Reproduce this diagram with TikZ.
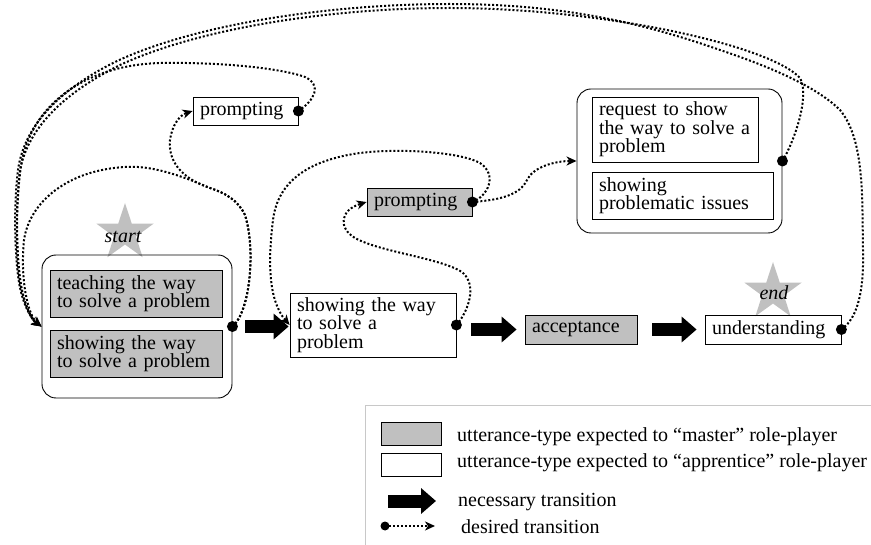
\documentclass[tikz,border=0pt]{standalone}
\usepackage{fontspec}
\setmainfont{Liberation Serif}
\usetikzlibrary{arrows.meta,shapes.geometric}
\definecolor{boxgray}{RGB}{192,192,192}
\definecolor{stargray}{RGB}{192,192,192}
\definecolor{legline}{RGB}{200,200,200}
\tikzset{
  txt/.style={font=\fontsize{20}{18.5}\selectfont},
  itxt/.style={font=\fontsize{20}{18.5}\selectfont\itshape, inner sep=0pt},
  ubox/.style={draw, line width=0.8pt, rectangle, inner xsep=7pt, inner ysep=0pt, align=left, txt},
  mbox/.style={ubox, fill=boxgray},
  grp/.style={draw, line width=0.9pt, rounded corners=14pt, inner sep=0pt},
  bigarrow/.style={line width=13pt, -{Triangle[length=15pt,width=25pt]}},
  desired/.style={line width=2pt, dash pattern=on 2pt off 2pt, -{Stealth[length=10pt,width=9pt,inset=3pt]}},
  starshape/.style={star, star points=5, star point ratio=2.6, fill=stargray, minimum size=60pt, inner sep=0pt, draw=none},
  legtext/.style={txt, anchor=west, inner sep=0pt},
}
\begin{document}
\begin{tikzpicture}[x=1pt,y=-1pt]
\useasboundingbox (0,0) rectangle (871,545);

% stars
\node[starshape] (startstar) at (125,233) {};
\node[itxt] (startlbl) at (123,237) {start};
\node[starshape] (endstar) at (773,292) {};
\node[itxt] (endlbl) at (774,293) {end};

% start group
\node[grp, minimum width=190pt, minimum height=143pt] (startgrp) at (137,326.5) {};
\node[mbox, text width=158pt, minimum height=47pt] (teach) at (136,293.5) {teaching the way\\to solve a problem};
\node[mbox, text width=158pt, minimum height=47pt] (showA) at (136,353.5) {showing the way\\to solve a problem};

% main chain
\node[ubox, text width=152pt, minimum height=64pt] (showing) at (373,325) {showing the way\\to solve a\\problem};
\node[mbox, text width=98pt, minimum height=29pt] (accept) at (581,329.5) {acceptance};
\node[ubox, text width=122pt, minimum height=29pt] (under) at (773,329.5) {understanding};

% prompting nodes
\node[ubox, text width=91pt, minimum height=28pt] (prompt1) at (245.5,111) {prompting};
\node[mbox, text width=91pt, minimum height=28pt] (prompt2) at (419.5,202) {prompting};

% right group
\node[grp, minimum width=205pt, minimum height=144pt] (grp2) at (679.5,161) {};
\node[ubox, text width=152pt, minimum height=65pt] (request) at (675,129.5) {request to show\\the way to solve a\\problem};
\node[ubox, text width=167pt, minimum height=47pt] (showprob) at (682.5,195.5) {showing\\problematic issues};

% necessary transitions
\draw[bigarrow, shorten <=13pt, shorten >=1pt] (startgrp.east) -- (startgrp.east -| showing.west);
\draw[bigarrow, shorten <=15pt, shorten >=8pt] (showing.east |- accept.west) -- (accept.west);
\draw[bigarrow, shorten <=15pt, shorten >=8pt] (accept.east) -- (under.west);

% desired transitions
% self loop on start group
\draw[desired] (startgrp.east) .. controls (250,312) and (256,250) .. (245,215)
  .. controls (238,200) and (225,193) .. (210,188)
  .. controls (180,175) and (150,165) .. (125,167)
  .. controls (70,170) and (30,200) .. (24,240)
  .. controls (20,280) and (28,315) .. (startgrp.west);
% start group -> prompting (top)
\draw[desired] (startgrp.east) .. controls (250,312) and (256,250) .. (245,215)
  .. controls (238,200) and (225,193) .. (210,188)
  .. controls (180,178) and (168,160) .. (170,140)
  .. controls (172,125) and (180,115) .. (prompt1.west);
% prompting (top) -> start group
\draw[desired] (prompt1.east) .. controls (315,100) and (322,85) .. (305,77)
  .. controls (280,68) and (220,62) .. (160,63)
  .. controls (90,65) and (35,100) .. (22,160)
  .. controls (15,200) and (16,260) .. (22,290)
  .. controls (26,308) and (32,320) .. (startgrp.west);
% request group -> start group
\draw[desired] (grp2.east) .. controls (795,140) and (810,95) .. (800,78)
  .. controls (770,45) and (600,8) .. (450,8)
  .. controls (330,8) and (200,28) .. (120,65)
  .. controls (60,95) and (28,130) .. (20,170)
  .. controls (15,210) and (16,270) .. (22,292)
  .. controls (26,308) and (32,320) .. (startgrp.west);
% understanding -> start group
\draw[desired] (under.east) .. controls (858,318) and (864,290) .. (863,250)
  .. controls (862,200) and (865,140) .. (840,110)
  .. controls (820,90) and (780,70) .. (720,50)
  .. controls (640,22) and (560,4) .. (450,4)
  .. controls (330,4) and (195,24) .. (115,62)
  .. controls (55,92) and (24,128) .. (18,170)
  .. controls (13,210) and (15,270) .. (21,292)
  .. controls (25,308) and (32,320) .. (startgrp.west);
% prompting (gray) -> showing
\draw[desired] (prompt2.east) .. controls (488,196) and (498,175) .. (480,163)
  .. controls (460,152) and (400,148) .. (360,153)
  .. controls (310,160) and (278,180) .. (273,220)
  .. controls (268,260) and (268,300) .. (showing.west);
% showing -> prompting (gray)
\draw[desired] (showing.east) .. controls (468,312) and (478,285) .. (462,272)
  .. controls (440,258) and (380,252) .. (355,238)
  .. controls (338,228) and (340,210) .. (prompt2.west);
% prompting (gray) -> right group
\draw[desired] (prompt2.east) .. controls (500,200) and (520,195) .. (527,180)
  .. controls (533,167) and (555,161) .. (grp2.west);

% source dots
\fill (startgrp.east) circle (5.5pt);
\fill (prompt1.east) circle (5.5pt);
\fill (prompt2.east) circle (5.5pt);
\fill (showing.east) circle (5.5pt);
\fill (grp2.east) circle (5.5pt);
\fill (under.east) circle (5.5pt);

% legend
\draw[legline, line width=1pt] (365,545) -- (365,406) -- (871,406);
\node[mbox, minimum width=60pt, minimum height=23pt, inner sep=0pt] (legm) at (411.5,433.5) {};
\node[ubox, minimum width=60pt, minimum height=23pt, inner sep=0pt] (lega) at (411.5,464.5) {};
\node[legtext] (legmt) at (457,437) {utterance-type expected to “master” role-player};
\node[legtext] (legat) at (457,463) {utterance-type expected to “apprentice” role-player};
\coordinate (lna) at (388,501);
\coordinate (lnb) at (436,501);
\draw[bigarrow] (lna) -- (lnb);
\node[legtext] (legnt) at (458,502) {necessary transition};
\coordinate (lda) at (385,526);
\coordinate (ldb) at (435,526);
\draw[desired] (lda) -- (ldb);
\fill (lda) circle (4.5pt);
\node[legtext] (legdt) at (461,527) {desired transition};
\end{tikzpicture}
\end{document}
